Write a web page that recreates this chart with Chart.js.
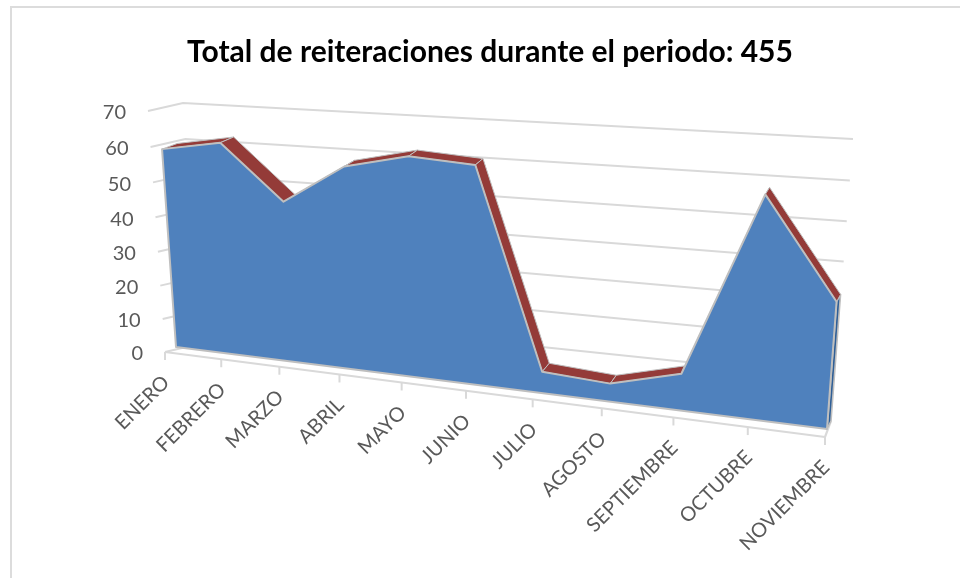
<!DOCTYPE html>
<html><head><meta charset="utf-8">
<style>html,body{margin:0;padding:0;background:#fff}canvas{display:block}</style>
<script src="https://cdn.jsdelivr.net/npm/chart.js@4"></script>
</head><body>
<canvas id="c" width="960" height="578"></canvas>
<script>
const months = ['ENERO','FEBRERO','MARZO','ABRIL','MAYO','JUNIO','JULIO','AGOSTO','SEPTIEMBRE','OCTUBRE','NOVIEMBRE'];
const reiteraciones = [58,61,46,57,61,60,6,5,10,58,33];
const yMin = 0, yMax = 70, yStep = 10;
const titleText = 'Total de reiteraciones durante el periodo: 455';

// perspective planes: [bottom-left, bottom-right, top-left, top-right]
const planes = {
  axis:  [[165,352],[825,437],[148,111],[846,152]],
  front: [[176,347],[827,429],[159,106],[848,150]],
  back:  [[192,338],[831,421],[174,101],[852,143]],
  wall:  [[199,344],[832,415],[183,103],[853,139]]
};
function quadMap(q){
  // unit square (u right, t up) -> quad
  const [p00,p10,p01,p11]=q;
  const dx1=p10[0]-p11[0], dx2=p01[0]-p11[0], sx=p00[0]-p10[0]+p11[0]-p01[0];
  const dy1=p10[1]-p11[1], dy2=p01[1]-p11[1], sy=p00[1]-p10[1]+p11[1]-p01[1];
  const den=dx1*dy2-dx2*dy1;
  const g=(sx*dy2-dx2*sy)/den, h=(dx1*sy-sx*dy1)/den;
  const a=p10[0]-p00[0]+g*p10[0], b=p01[0]-p00[0]+h*p01[0], c=p00[0];
  const d=p10[1]-p00[1]+g*p10[1], e=p01[1]-p00[1]+h*p01[1], f=p00[1];
  return (u,t)=>{const w=g*u+h*t+1;return [(a*u+b*t+c)/w,(d*u+e*t+f)/w];};
}
const P={axis:quadMap(planes.axis),front:quadMap(planes.front),back:quadMap(planes.back),wall:quadMap(planes.wall)};

const perspective={
  id:'perspective',
  beforeDraw(chart){
    const ctx=chart.ctx, area=chart.chartArea, xs=chart.scales.x, ys=chart.scales.y;
    // frame
    ctx.save();ctx.strokeStyle='#dcdcdc';ctx.lineWidth=2;
    ctx.beginPath();ctx.moveTo(11,578);ctx.lineTo(11,7);ctx.lineTo(960,7);ctx.stroke();ctx.restore();
    const U=px=>(px-area.left)/area.width, T=py=>(area.bottom-py)/area.height;
    // axis labels follow the tilted floor and leaning wall
    xs.getLabelItems().forEach((it,i)=>{
      const p=P.axis(U(xs.getPixelForTick(i)),0);
      it.textOffset=0;
      Object.assign(it.options,{translation:[p[0]+1,p[1]+27],rotation:-Math.PI/4,textAlign:'right',textBaseline:'middle'});
    });
    ys.getLabelItems().forEach((it,i)=>{
      const p=P.axis(0,T(ys.getPixelForTick(i)));
      it.textOffset=0;
      Object.assign(it.options,{translation:[p[0]-22,p[1]+2],textAlign:'right',textBaseline:'middle'});
    });
  },
  beforeDatasetsDraw(chart){
    const ctx=chart.ctx, area=chart.chartArea, xs=chart.scales.x, ys=chart.scales.y;
    const U=px=>(px-area.left)/area.width, T=py=>(area.bottom-py)/area.height;
    const pts=chart.getDatasetMeta(0).data.map(el=>({u:U(el.x),t:T(el.y)}));
    const t0=T(ys.getPixelForValue(0));
    const poly=(list,fill,stroke,lw)=>{
      ctx.beginPath();list.forEach((p,i)=>i?ctx.lineTo(p[0],p[1]):ctx.moveTo(p[0],p[1]));ctx.closePath();
      if(fill){ctx.fillStyle=fill;ctx.fill();}
      if(stroke){ctx.strokeStyle=stroke;ctx.lineWidth=lw;ctx.lineJoin='round';ctx.stroke();}
    };
    const line=(a,b,col,lw)=>{ctx.strokeStyle=col;ctx.lineWidth=lw;ctx.beginPath();ctx.moveTo(a[0],a[1]);ctx.lineTo(b[0],b[1]);ctx.stroke();};
    ctx.save();
    const grid='#d9d9d9';
    // walls
    ys.ticks.forEach(tk=>{
      const t=T(ys.getPixelForValue(tk.value));
      ctx.strokeStyle=grid;ctx.lineWidth=2;ctx.beginPath();
      let a=P.axis(0,t),b=P.wall(0,t),c=P.wall(1,t);
      ctx.moveTo(a[0],a[1]);ctx.lineTo(b[0],b[1]);
      if(tk.value!==yMin) ctx.lineTo(c[0],c[1]);
      ctx.stroke();
    });
    // floor
    line(P.axis(0,0),P.axis(1,0),grid,2.2);
    line(P.axis(1,0),P.back(1,0),grid,2.2);
    xs.ticks.forEach((tk,i)=>{
      const p=P.axis(U(xs.getPixelForTick(i)),0);
      line(p,[p[0],p[1]+8],grid,2);
    });
    // right-hand end face
    const last=pts[pts.length-1];
    poly([P.front(last.u,last.t),P.back(last.u,last.t),P.back(last.u,t0),P.front(last.u,t0)],'#2f5f97','#bfbfbf',1.6);
    // ribbon along the top
    for(let i=0;i<pts.length-1;i++){
      const a=pts[i],b=pts[i+1];
      poly([P.front(a.u,a.t),P.back(a.u,a.t),P.back(b.u,b.t),P.front(b.u,b.t)],'#943b38','#bfbfbf',1);
    }
    // front face
    const face=pts.map(p=>P.front(p.u,p.t));
    face.push(P.front(last.u,t0),P.front(pts[0].u,t0));
    poly(face,'#4f81bd','#bfbfbf',2);
    ctx.restore();
  }
};

Chart.defaults.font.family='Lato';
new Chart(document.getElementById('c'),{
  type:'line',
  data:{labels:months,datasets:[{label:'Reiteraciones',data:reiteraciones,showLine:false,pointRadius:0,fill:false,borderColor:'#4f81bd',backgroundColor:'#4f81bd'}]},
  options:{
    responsive:false,animation:false,
    layout:{padding:{left:20}},
    plugins:{
      legend:{display:false},tooltip:{enabled:false},
      title:{display:true,text:titleText,color:'#000',font:{family:'Lato',size:30,weight:'bold'},padding:{top:34,bottom:43}}
    },
    scales:{
      x:{grid:{display:false},border:{display:false},
         ticks:{autoSkip:false,minRotation:45,maxRotation:45,color:'#595959',font:{size:20}},
         afterFit(s){s.height=225;}},
      y:{min:yMin,max:yMax,grid:{display:false},border:{display:false},
         ticks:{stepSize:yStep,color:'#595959',font:{size:20}},
         afterFit(s){s.width=130;}}
    }
  },
  plugins:[perspective]
});
</script>
</body></html>
